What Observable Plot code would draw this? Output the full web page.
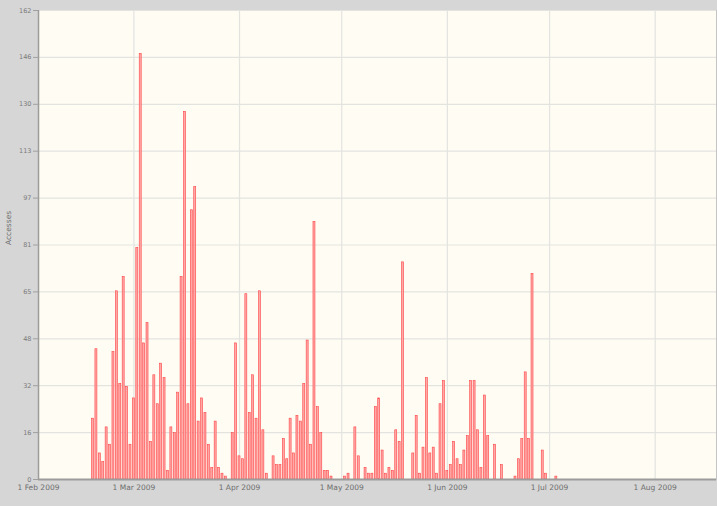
<!DOCTYPE html>
<html><head><meta charset="utf-8">
<script src="https://cdn.jsdelivr.net/npm/d3@7"></script>
<script src="https://cdn.jsdelivr.net/npm/@observablehq/plot@0.6"></script>
<style>
html,body{margin:0;padding:0;background:#d6d6d6;}
#chart{width:717px;height:506px;overflow:hidden;}
</style></head><body><div id="chart"></div>
<script>
// Daily accesses (days not listed have no bar)
const dates = [
  "2009-02-17","2009-02-18","2009-02-19","2009-02-20","2009-02-21","2009-02-22","2009-02-23","2009-02-24","2009-02-25","2009-02-26","2009-02-27","2009-02-28",
  "2009-03-01","2009-03-02","2009-03-03","2009-03-04","2009-03-05","2009-03-06","2009-03-07","2009-03-08","2009-03-09","2009-03-10","2009-03-11","2009-03-12","2009-03-13","2009-03-14","2009-03-15","2009-03-16","2009-03-17","2009-03-18","2009-03-19","2009-03-20","2009-03-21","2009-03-22","2009-03-23","2009-03-24","2009-03-25","2009-03-26","2009-03-27","2009-03-28","2009-03-30","2009-03-31",
  "2009-04-01","2009-04-02","2009-04-03","2009-04-04","2009-04-05","2009-04-06","2009-04-07","2009-04-08","2009-04-09","2009-04-11","2009-04-12","2009-04-13","2009-04-14","2009-04-15","2009-04-16","2009-04-17","2009-04-18","2009-04-19","2009-04-20","2009-04-21","2009-04-22","2009-04-23","2009-04-24","2009-04-25","2009-04-26","2009-04-27","2009-04-28",
  "2009-05-02","2009-05-03","2009-05-05","2009-05-06","2009-05-08","2009-05-09","2009-05-10","2009-05-11","2009-05-12","2009-05-13","2009-05-14","2009-05-15","2009-05-16","2009-05-17","2009-05-18","2009-05-19","2009-05-22","2009-05-23","2009-05-24","2009-05-25","2009-05-26","2009-05-27","2009-05-28","2009-05-29","2009-05-30","2009-05-31",
  "2009-06-01","2009-06-02","2009-06-03","2009-06-04","2009-06-05","2009-06-06","2009-06-07","2009-06-08","2009-06-09","2009-06-10","2009-06-11","2009-06-12","2009-06-13","2009-06-15","2009-06-17","2009-06-21","2009-06-22","2009-06-23","2009-06-24","2009-06-25","2009-06-26","2009-06-29","2009-06-30",
  "2009-07-03"
];
const accesses = [
  21,45,9,6,18,12,44,65,33,70,32,12,
  28,80,147,47,54,13,36,26,40,35,3,18,16,30,70,127,26,93,101,20,28,23,12,4,20,4,2,1,16,47,
  8,7,64,23,36,21,65,17,2,8,5,5,14,7,21,9,22,20,33,48,12,89,25,16,3,3,1,
  1,2,18,8,4,2,2,25,28,10,2,4,3,17,13,75,9,22,2,11,35,9,11,2,26,34,
  3,5,13,7,5,10,15,34,34,17,4,29,15,12,5,1,7,14,37,14,71,10,2,
  1
];
const yTickLabels = [0,16,32,48,65,81,97,113,130,146,162];
const yMax = 162;
const xTickDates = ["2009-02-01","2009-03-01","2009-04-01","2009-05-01","2009-06-01","2009-07-01","2009-08-01"];
const xTickLabels = ["1 Feb 2009","1 Mar 2009","1 Apr 2009","1 May 2009","1 Jun 2009","1 Jul 2009","1 Aug 2009"];
const xStart = "2009-02-01", xEnd = "2009-08-19";
const yLabel = "Accesses";

const parse = d3.utcParse("%Y-%m-%d");
const data = dates.map((d, i) => ({date: parse(d), value: accesses[i]}));
const yTicks = yTickLabels.map((_, i) => i * yMax / (yTickLabels.length - 1));
const yLabelMap = new Map(yTicks.map((t, i) => [t, String(yTickLabels[i])]));
const xTicks = xTickDates.map(parse);
const xLabelMap = new Map(xTicks.map((t, i) => [+t, xTickLabels[i]]));

const chart = Plot.plot({
  width: 717, height: 506,
  marginLeft: 38, marginRight: 1, marginTop: 10, marginBottom: 27,
  style: {background: "transparent", fontFamily: "'DejaVu Sans', sans-serif", overflow: "visible"},
  x: {type: "utc", domain: [parse(xStart), parse(xEnd)]},
  y: {domain: [0, yMax]},
  marks: [
    Plot.frame({fill: "#fffcf3", stroke: "#c4c4c4"}),
    Plot.gridY(yTicks, {stroke: "#e3e3e0", strokeOpacity: 1, strokeWidth: 1.2}),
    Plot.gridX(xTicks, {stroke: "#e3e3e0", strokeOpacity: 1, strokeWidth: 1.2}),
    Plot.rectY(data, {
      x1: d => d3.utcHour.offset(d.date, -7),
      x2: d => d3.utcHour.offset(d.date, 7),
      y: "value",
      fill: "#ffa8a8", stroke: "#ff4444", strokeWidth: 0.6
    }),
    Plot.ruleY([0], {stroke: "#9c9c9c", strokeWidth: 2}),
    Plot.ruleX([parse(xStart)], {stroke: "#9c9c9c", strokeWidth: 1.5}),
    Plot.axisY(yTicks, {tickFormat: d => yLabelMap.get(d), tickSize: 5, tickPadding: 2, fontSize: 6.5, stroke: "#a0a0a0", fill: "#7a7a7a", label: null}),
    Plot.axisX(xTicks, {tickFormat: d => xLabelMap.get(+d), tickSize: 0, tickPadding: 5, fontSize: 7.5, fill: "#6e6e6e", label: null}),
    Plot.text([yLabel], {frameAnchor: "left", dx: -30, rotate: -90, fontSize: 7.5, fill: "#6e6e6e"})
  ]
});
document.getElementById("chart").appendChild(chart);
</script>
</body></html>
